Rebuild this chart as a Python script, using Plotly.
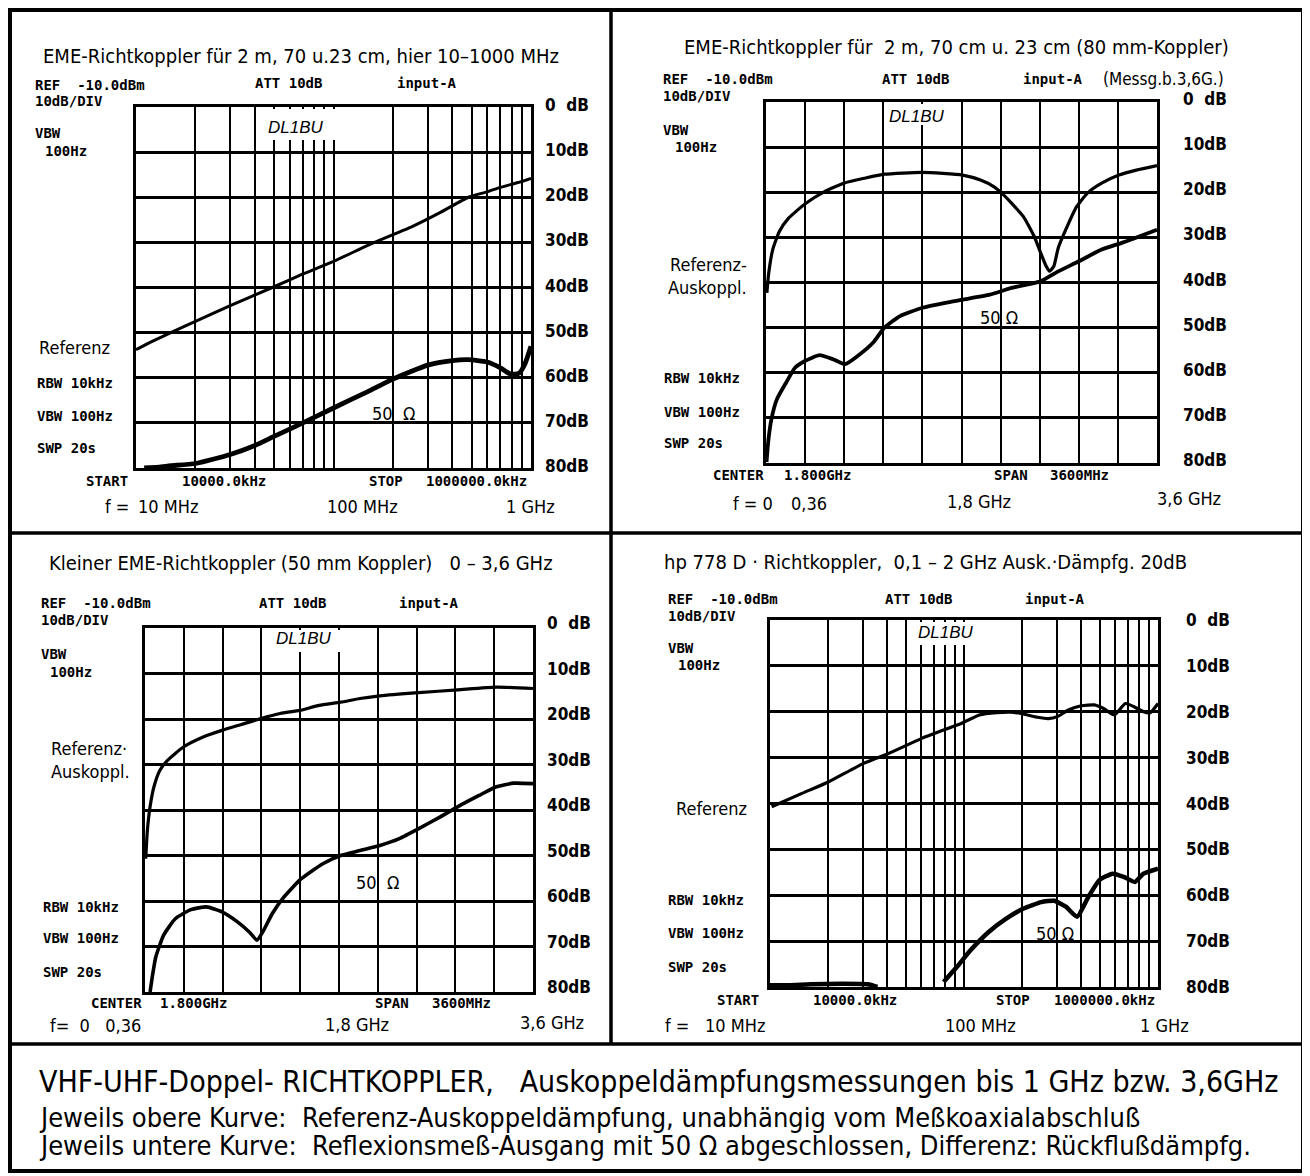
import plotly.graph_objects as go

# page body has an 8 px margin: shift drawing coordinates so the picture lands where the reference is
OFF = 8
W, H = 1310 - OFF, 1176 - OFF

# ---------------- data ----------------
# Panel 1: EME coupler 10-1000 MHz (log frequency, MHz), attenuation in dB
p1_ref_f = [10, 12, 15, 20, 30, 49, 70, 100, 161, 250, 350, 482, 600, 700, 850, 1000]
p1_ref_db = [53.8, 52.0, 50.0, 47.5, 44.0, 40.0, 37.0, 34.2, 30.0, 26.5, 23.3, 20.0, 18.8, 17.8, 16.8, 15.8]
p1_50_f = [11, 13, 15, 20, 30, 40, 50, 70, 100, 150, 200, 300, 400, 480, 600, 700, 790, 870, 930, 1000]
p1_50_db = [80.0, 79.8, 79.5, 79.0, 77.0, 75.0, 73.0, 70.0, 66.7, 63.0, 60.3, 57.2, 56.2, 56.0, 56.5, 57.8, 59.2, 59.0, 57.0, 53.0]

# Panel 2: EME coupler 80 mm, 0-3.6 GHz
p2_ref_f = [0.008, 0.025, 0.062, 0.123, 0.206, 0.358, 0.535, 0.728, 0.905, 1.09, 1.44, 1.81, 1.975, 2.10,
            2.17, 2.26, 2.37, 2.47, 2.53, 2.58, 2.61, 2.65, 2.69, 2.76, 2.86, 2.96, 3.09, 3.25, 3.41, 3.6]
p2_ref_db = [42.3, 37.9, 32.7, 28.7, 25.8, 22.6, 19.9, 17.9, 16.9, 16.0, 15.6, 16.2, 17.3, 18.8,
             20.2, 22.4, 25.4, 29.8, 33.5, 36.4, 37.5, 36.4, 32.4, 28.3, 23.2, 20.2, 18.0, 16.2, 15.1, 14.1]
p2_50_f = [0.005, 0.02, 0.05, 0.10, 0.185, 0.267, 0.358, 0.494, 0.617, 0.728, 0.843, 0.987, 1.09, 1.23,
           1.44, 1.65, 1.81, 2.06, 2.26, 2.53, 2.67, 2.88, 3.09, 3.29, 3.6]
p2_50_db = [79.8, 75.4, 70.3, 65.9, 62.2, 58.9, 57.4, 56.1, 57.0, 58.1, 56.3, 53.3, 50.0, 47.5,
            45.6, 44.5, 43.8, 42.7, 41.2, 39.7, 37.8, 35.3, 32.7, 31.1, 28.3]

# Panel 3: small EME coupler 50 mm, 0-3.6 GHz
p3_ref_f = [0.007, 0.022, 0.047, 0.083, 0.137, 0.209, 0.353, 0.534, 0.714, 0.894, 1.075, 1.255, 1.436,
            1.616, 1.815, 1.995, 2.18, 2.54, 2.90, 3.26, 3.6]
p3_ref_db = [50.7, 44.5, 39.3, 34.9, 31.3, 29.1, 26.2, 24.0, 22.5, 21.2, 19.9, 18.8, 18.1,
             17.0, 16.3, 15.5, 14.9, 14.2, 13.6, 13.0, 13.3]
p3_50_f = [0.047, 0.072, 0.10, 0.173, 0.281, 0.426, 0.57, 0.714, 0.858, 0.967, 1.039, 1.093, 1.18, 1.29,
           1.45, 1.65, 1.815, 1.995, 2.18, 2.36, 2.54, 2.74, 2.90, 3.10, 3.26, 3.42, 3.6]
p3_50_db = [80.0, 76.0, 72.3, 67.5, 63.9, 61.9, 61.3, 62.4, 64.6, 66.8, 68.6, 66.8, 62.8, 59.1,
            55.1, 51.8, 50.0, 48.9, 47.8, 46.3, 44.1, 41.5, 39.3, 36.8, 34.9, 34.1, 34.2]

# Panel 4: hp 778 D coupler, 10-1000 MHz (log)
p4_ref_f = [10.2, 14.6, 20, 30.2, 40.8, 60.6, 78.5, 97.4, 120, 148, 173, 198, 239, 272, 302, 345, 403,
            470, 524, 596, 679, 753, 842, 912, 1000]
p4_ref_db = [40.7, 37.8, 35.3, 31.3, 29.1, 25.8, 24.0, 22.5, 20.7, 20.2, 20.1, 20.4, 21.2, 21.5, 21.1,
             19.6, 18.7, 18.5, 19.3, 20.7, 18.2, 18.9, 20.0, 20.2, 18.2]
p4_50_f = [10, 12.5, 16.2, 23.5, 32, 35.8, 73, 78.5, 92, 108, 134, 165, 203, 250, 292, 335, 383, 437,
           499, 583, 666, 760, 842, 1000]
p4_50_db = [79.6, 79.6, 79.4, 79.3, 79.4, 80.0, None, 78.9, 75.6, 72.0, 68.0, 65.1, 62.9, 61.5, 61.2,
            62.5, 64.7, 60.4, 56.7, 55.3, 56.0, 57.1, 55.3, 54.2]

db_ticks = [0, 10, 20, 30, 40, 50, 60, 70, 80]
db_labels = ["0  dB", "10dB", "20dB", "30dB", "40dB", "50dB", "60dB", "70dB", "80dB"]
lin_ticks = [0, 0.36, 0.72, 1.08, 1.44, 1.8, 2.16, 2.52, 2.88, 3.24, 3.6]
log_ticks = [10, 20, 30, 40, 50, 60, 70, 80, 90, 100, 200, 300, 400, 500, 600, 700, 800, 900, 1000]

# ---------------- layout helpers ----------------
def px(x):
    return (x - OFF) / W

def py(y):
    return 1 - (y - OFF) / H

TXT = "Liberation Sans Narrow, DejaVu Sans Condensed, Arial Narrow, sans-serif"
INST = "DejaVu Sans Mono, Liberation Mono, monospace"
ITAL = "Liberation Sans, Arial, sans-serif"

fig = go.Figure()

panels = [
    # (box x0, x1, y0(top), y1(bottom), log?)
    (136, 531, 107, 468, True),
    (766, 1157, 102, 463, False),
    (145, 533, 628, 992, False),
    (770, 1158, 620, 987, True),
]
series = [
    (p1_ref_f, p1_ref_db, 3.0, p1_50_f, p1_50_db, 4.8),
    (p2_ref_f, p2_ref_db, 3.2, p2_50_f, p2_50_db, 3.8),
    (p3_ref_f, p3_ref_db, 3.2, p3_50_f, p3_50_db, 3.6),
    (p4_ref_f, p4_ref_db, 3.2, p4_50_f, p4_50_db, 4.5),
]

layout = {}
for i, (x0, x1, y0, y1, islog) in enumerate(panels):
    n = "" if i == 0 else str(i + 1)
    xa = dict(domain=[px(x0), px(x1)], anchor="y" + n, showgrid=True, gridcolor="black",
              gridwidth=2.2, showline=True, mirror=True, linecolor="black", linewidth=3,
              showticklabels=False, ticks="", zeroline=False, tickmode="array")
    if islog:
        xa.update(type="log", range=[1, 3], tickvals=log_ticks)
    else:
        xa.update(range=[0, 3.6], tickvals=lin_ticks)
    ya = dict(domain=[py(y1), py(y0)], anchor="x" + n, range=[80, 0], tickmode="array",
              tickvals=db_ticks, showgrid=True, gridcolor="black", gridwidth=2.6,
              showline=True, mirror=True, linecolor="black", linewidth=3,
              showticklabels=False, ticks="", zeroline=False)
    layout["xaxis" + n] = xa
    layout["yaxis" + n] = ya
    fx, fy, w1, gx, gy, w2 = series[i]
    fig.add_trace(go.Scatter(x=fx, y=fy, mode="lines", line=dict(color="black", width=w1, shape="spline", smoothing=0.5),
                             xaxis="x" + n, yaxis="y" + n, showlegend=False, hoverinfo="skip"))
    fig.add_trace(go.Scatter(x=gx, y=gy, mode="lines", line=dict(color="black", width=w2, shape="spline", smoothing=0.5),
                             xaxis="x" + n, yaxis="y" + n, showlegend=False, hoverinfo="skip", connectgaps=False))

shapes = []
def line(x0, y0, x1, y1, w=3.5):
    shapes.append(dict(type="line", xref="paper", yref="paper", x0=px(x0), y0=py(y0), x1=px(x1), y1=py(y1),
                       line=dict(color="black", width=w)))

def white(x0, y0, x1, y1):
    shapes.append(dict(type="rect", xref="paper", yref="paper", x0=px(x0), y0=py(y0), x1=px(x1), y1=py(y1),
                       fillcolor="white", line=dict(width=0), layer="above"))

# outer frame and dividers
shapes.append(dict(type="rect", xref="paper", yref="paper", x0=px(10), y0=py(10), x1=px(1303), y1=py(1171),
                   line=dict(color="black", width=4)))
line(611, 10, 611, 1044)
line(10, 533, 1303, 533)
line(10, 1044, 1303, 1044)

# white areas behind the DL1BU labels
white(262, 109, 339, 140)
white(886, 104, 960, 125)
white(268, 630, 352, 652)
white(910, 622, 991, 645)

ann = []
def T(text, x, y, size, family=TXT, bold=False, italic=False):
    t = text.replace("  ", "\u00a0\u00a0")
    if bold:
        t = "<b>" + t + "</b>"
    if italic:
        t = "<i>" + t + "</i>"
    ann.append(dict(text=t, x=px(x), y=py(y), xref="paper", yref="paper", xanchor="left", yanchor="middle",
                    showarrow=False, font=dict(family=family, size=size, color="black")))

def inst(text, x, y):
    T(text, x, y, 14, INST, bold=True)

# dB labels
for (x0, x1, y0, y1, islog), lx, off in zip(panels, [543, 1181, 545, 1184], [-2, -3, -5, 0]):
    for k, lab in enumerate(db_labels):
        T(lab, lx, y0 + (y1 - y0) * k / 8 + off, 17, TXT, bold=True)

# Panel 1
T("EME-Richtkoppler für 2 m, 70 u.23 cm, hier 10–1000 MHz", 41, 56, 20)
inst("REF  -10.0dBm", 33, 85); inst("10dB/DIV", 33, 101)
inst("ATT 10dB", 253, 83); inst("input-A", 395, 83)
inst("VBW", 33, 133); inst("100Hz", 43, 151)
inst("RBW 10kHz", 35, 383); inst("VBW 100Hz", 35, 416); inst("SWP 20s", 35, 448)
inst("START", 84, 481); inst("10000.0kHz", 180, 481); inst("STOP", 367, 481); inst("1000000.0kHz", 424, 481)
T("Referenz", 37, 348, 18)
T("f =", 103, 506, 18); T("10 MHz", 136, 506, 18); T("100 MHz", 325, 506, 18); T("1 GHz", 504, 506, 18)
T("50  Ω", 370, 413, 18)
T("DL1BU", 266, 128, 17, ITAL, italic=True)

# Panel 2
T("EME-Richtkoppler für  2 m, 70 cm u. 23 cm (80 mm-Koppler)", 682, 47, 20)
inst("REF  -10.0dBm", 661, 79); inst("10dB/DIV", 661, 96)
inst("ATT 10dB", 880, 79); inst("input-A", 1021, 79)
T("(Messg.b.3,6G.)", 1101, 79, 17)
inst("VBW", 661, 130); inst("100Hz", 673, 147)
T("Referenz-", 668, 265, 18); T("Auskoppl.", 666, 288, 18)
inst("RBW 10kHz", 662, 378); inst("VBW 100Hz", 662, 412); inst("SWP 20s", 662, 443)
inst("CENTER", 711, 475); inst("1.800GHz", 782, 475); inst("SPAN", 992, 475); inst("3600MHz", 1048, 475)
T("f = 0", 731, 504, 18); T("0,36", 789, 504, 18); T("1,8 GHz", 945, 501, 18); T("3,6 GHz", 1155, 498, 18)
T("50 Ω", 978, 317, 18)
T("DL1BU", 887, 116, 17, ITAL, italic=True)

# Panel 3
T("Kleiner EME-Richtkoppler (50 mm Koppler)   0 – 3,6 GHz", 47, 563, 20)
inst("REF  -10.0dBm", 39, 603); inst("10dB/DIV", 39, 620)
inst("ATT 10dB", 257, 603); inst("input-A", 397, 603)
inst("VBW", 39, 654); inst("100Hz", 48, 672)
T("Referenz·", 49, 748, 18); T("Auskoppl.", 49, 771, 18)
inst("RBW 10kHz", 41, 907); inst("VBW 100Hz", 41, 938); inst("SWP 20s", 41, 972)
inst("CENTER", 89, 1003); inst("1.800GHz", 158, 1003); inst("SPAN", 373, 1003); inst("3600MHz", 430, 1003)
T("f=  0   0,36", 48, 1025, 18); T("1,8 GHz", 323, 1024, 18); T("3,6 GHz", 518, 1022, 18)
T("50  Ω", 354, 882, 18)
T("DL1BU", 274, 638, 17, ITAL, italic=True)

# Panel 4
T("hp 778 D · Richtkoppler,  0,1 – 2 GHz Ausk.·Dämpfg. 20dB", 662, 562, 20)
inst("REF  -10.0dBm", 666, 599); inst("10dB/DIV", 666, 616)
inst("ATT 10dB", 883, 599); inst("input-A", 1023, 599)
inst("VBW", 666, 648); inst("100Hz", 676, 665)
T("Referenz", 674, 808, 18)
inst("RBW 10kHz", 666, 900); inst("VBW 100Hz", 666, 933); inst("SWP 20s", 666, 967)
inst("START", 715, 1000); inst("10000.0kHz", 811, 1000); inst("STOP", 994, 1000); inst("1000000.0kHz", 1052, 1000)
T("f =", 663, 1025, 18); T("10 MHz", 703, 1025, 18); T("100 MHz", 943, 1025, 18); T("1 GHz", 1138, 1025, 18)
T("50 Ω", 1034, 933, 18)
T("DL1BU", 916, 632, 17, ITAL, italic=True)

# Bottom caption
T("VHF-UHF-Doppel- RICHTKOPPLER,   Auskoppeldämpfungsmessungen bis 1 GHz bzw. 3,6GHz", 37, 1081, 30)
T("Jeweils obere Kurve:  Referenz-Auskoppeldämpfung, unabhängig vom Meßkoaxialabschluß", 37, 1117, 27)
T("Jeweils untere Kurve:  Reflexionsmeß-Ausgang mit 50 Ω abgeschlossen, Differenz: Rückflußdämpfg.", 37, 1145, 27)

fig.update_layout(width=W, height=H, margin=dict(l=0, r=0, t=0, b=0), paper_bgcolor="white",
                  plot_bgcolor="white", showlegend=False, shapes=shapes, annotations=ann, **layout)
fig.write_html("out.html")
